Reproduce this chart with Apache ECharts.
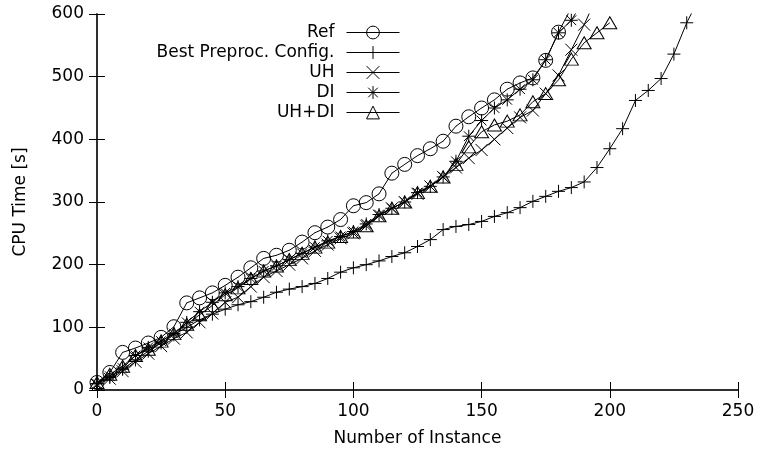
<!DOCTYPE html>
<html>
<head>
<meta charset="utf-8">
<script src="https://cdn.jsdelivr.net/npm/echarts@6/dist/echarts.min.js"></script>
<style>html,body{margin:0;padding:0;background:#fff}#c{width:760px;height:452px}</style>
</head>
<body>
<div id="c"></div>
<script>
// ---- data ----
const seriesNames = ['Ref', 'Best Preproc. Config.', 'UH', 'DI', 'UH+DI'];

const refX = [0,5,10,15,20,25,30,35,40,45,50,55,60,65,70,75,80,85,90,95,100,105,110,115,120,125,130,135,140,145,150,155,160,165,170,175,180,185];
const refY = [12,28,60,67,75,84,101,139,147,155,167,180,195,210,215,223,236,251,260,272,294,299,313,346,360,374,385,397,421,436,450,463,480,490,498,526,571,610];

const bestX = [0,5,10,15,20,25,30,35,40,45,50,55,60,65,70,75,80,85,90,95,100,105,110,115,120,125,130,135,140,145,150,155,160,165,170,175,180,185,190,195,200,205,210,215,220,225,230,233];
const bestY = [10,20,33,48,62,75,88,100,112,121,129,136,141,148,156,161,165,170,178,188,195,200,206,213,219,229,240,256,261,264,269,277,283,291,301,309,317,323,332,355,385,417,462,478,497,536,586,610];

const uhX = [0,5,10,15,20,25,30,35,40,45,50,55,60,65,70,75,80,85,90,95,100,105,110,115,120,125,130,135,140,145,150,155,160,165,170,175,180,185,190,193];
const uhY = [8,18,30,45,58,70,82,92,108,122,140,148,165,180,190,200,210,222,232,242,250,262,278,290,300,313,325,340,355,370,383,400,418,435,446,473,502,543,583,610];

const diX = [0,5,10,15,20,25,30,35,40,45,50,55,60,65,70,75,80,85,90,95,100,105,110,115,120,125,130,135,140,145,150,155,160,165,170,175,180,185,188];
const diY = [10,22,35,55,68,78,90,108,125,140,155,165,178,190,198,208,218,228,238,245,253,265,280,290,300,315,325,340,365,405,430,450,463,480,495,527,570,590,610];

const uhdiX = [0,5,10,15,20,25,30,35,40,45,50,55,60,65,70,75,80,85,90,95,100,105,110,115,120,125,130,135,140,145,150,155,160,165,170,175,180,185,190,195,200];
const uhdiY = [12,25,38,55,65,78,90,105,120,135,152,163,178,190,198,208,218,228,236,245,252,262,278,290,300,315,325,340,360,388,412,423,429,439,460,473,495,528,554,570,586];

const xTicks = [0, 50, 100, 150, 200, 250];
const yTicks = [0, 100, 200, 300, 400, 500, 600];

// ---- styling ----
const FONT = 'DejaVu Sans';
const FS = 17;
const symbols = {
  'Ref': 'path://M-1,0A1,1 0 1,0 1,0A1,1 0 1,0 -1,0ZM-0.03,0L0.03,0',
  'Best Preproc. Config.': 'path://M0,-1L0,1M-1,0L1,0',
  'UH': 'path://M-1,-1L1,1M-1,1L1,-1',
  'DI': 'path://M0,-1L0,1M-1,0L1,0M-0.75,-0.75L0.75,0.75M-0.75,0.75L0.75,-0.75',
  'UH+DI': 'path://M0,-1L0.95,0.7L-0.95,0.7Z'
};
const sizes = {
  'Ref': 14, 'Best Preproc. Config.': 13, 'UH': 12, 'DI': 13, 'UH+DI': [14, 12]
};
const xs = [refX, bestX, uhX, diX, uhdiX];
const ys = [refY, bestY, uhY, diY, uhdiY];

function pairs(a, b) { return a.map((v, i) => [v, b[i]]); }

const series = seriesNames.map((name, k) => ({
  name: name,
  type: 'line',
  data: pairs(xs[k], ys[k]),
  symbol: symbols[name],
  symbolSize: sizes[name],
  showSymbol: true,
  clip: true,
  animation: false,
  lineStyle: { color: '#000', width: 1 },
  itemStyle: { color: 'rgba(0,0,0,0)', borderColor: '#000', borderWidth: 1 },
  emphasis: { disabled: true },
  z: 2
}));

const legendRows = [32, 52, 72, 92, 112];
const legends = seriesNames.map((name, k) => ({
  data: [name],
  orient: 'vertical',
  align: 'right',
  right: 360,
  top: legendRows[k] - 8,
  padding: 0,
  itemWidth: 53,
  itemHeight: 16,
  selectedMode: false,
  itemStyle: { borderWidth: 1, borderColor: '#000', color: 'rgba(0,0,0,0)' },
  lineStyle: { color: '#000', width: 1 },
  textStyle: { fontFamily: FONT, fontSize: FS, color: '#000', padding: [0, 7, 0, 0] }
}));

const axisLine = { show: true, lineStyle: { color: '#222', width: 1.5 } };
const tick = { show: true, inside: true, length: 8, lineStyle: { color: '#000', width: 1 } };
const lbl = { fontFamily: FONT, fontSize: FS, color: '#000' };

const chart = echarts.init(document.getElementById('c'), null, { renderer: 'canvas' });
chart.setOption({
  animation: false,
  backgroundColor: '#fff',
  grid: { left: 97, right: 22, top: 14, bottom: 61, containLabel: false },
  legend: legends,
  xAxis: [
    {
      type: 'value', min: xTicks[0], max: xTicks[xTicks.length - 1], interval: 50,
      position: 'bottom',
      name: 'Number of Instance', nameLocation: 'middle', nameGap: 40,
      nameTextStyle: lbl,
      axisLine: axisLine, axisTick: tick, splitLine: { show: false },
      axisLabel: Object.assign({ margin: 13 }, lbl)
    },
    {
      type: 'value', min: xTicks[0], max: xTicks[xTicks.length - 1], interval: 50,
      position: 'top',
      axisLine: axisLine, axisTick: tick, splitLine: { show: false },
      axisLabel: { show: false }
    }
  ],
  yAxis: [
    {
      type: 'value', min: yTicks[0], max: yTicks[yTicks.length - 1], interval: 100,
      position: 'left',
      name: 'CPU Time [s]', nameLocation: 'middle', nameGap: 68,
      nameTextStyle: lbl,
      axisLine: axisLine, axisTick: tick, splitLine: { show: false },
      axisLabel: Object.assign({ margin: 13 }, lbl)
    },
    {
      type: 'value', min: yTicks[0], max: yTicks[yTicks.length - 1], interval: 100,
      position: 'right',
      axisLine: axisLine, axisTick: tick, splitLine: { show: false },
      axisLabel: { show: false }
    }
  ],
  series: series
});
</script>
</body>
</html>
